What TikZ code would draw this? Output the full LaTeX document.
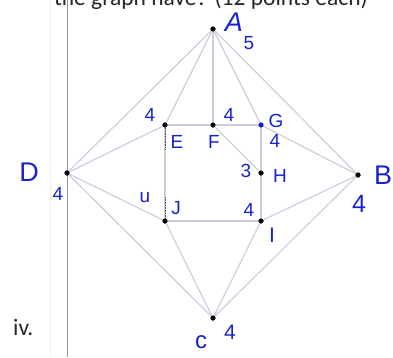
\documentclass[tikz,border=0pt]{standalone}
\usepackage{fontspec}
\setmainfont{Carlito}
\newfontfamily\handfont{Liberation Sans}
\usetikzlibrary{calc}
\definecolor{edgegray}{RGB}{205, 205, 224}
\definecolor{inkblue}{RGB}{25, 35, 205}
\definecolor{rulegray}{RGB}{150, 150, 150}

\begin{document}
\begin{tikzpicture}[x=1pt, y=-1pt,
    vtx/.style={circle, fill=black, inner sep=0pt, minimum size=5pt},
    edge/.style={draw=edgegray, line width=1.2pt},
    hand/.style={font=\handfont\fontsize{19}{19}\selectfont, text=inkblue, inner sep=0pt},
    bighand/.style={hand, font=\handfont\fontsize{27}{27}\selectfont},
    print/.style={font=\fontsize{23.5}{28}\selectfont, text=black!85, inner sep=0pt}
  ]
    \clip (0,0) rectangle (393,357);
    \useasboundingbox (0,0) rectangle (393,357);

    % page margin lines
    \draw[black!6, line width=1pt] (50,0) -- (50,357);
    \draw[rulegray, line width=0.8pt] (67,0) -- (67,357);

    % printed text
    \node[print, anchor=base east] (question) at (368,5) {the graph have? (12 points each)};
    \node[print, anchor=base west] (part) at (13,335) {iv.};

    % vertices
    \node[vtx] (A) at (213,29) {};
    \node[vtx] (D) at (67,173) {};
    \node[vtx] (B) at (358,175) {};
    \node[vtx] (C) at (213,318) {};
    \node[vtx] (E) at (165,125) {};
    \node[vtx] (F) at (213,125) {};
    \node[vtx, fill=inkblue] (G) at (261,125) {};
    \node[vtx] (H) at (261,173) {};
    \node[vtx] (I) at (261,221) {};
    \node[vtx] (J) at (165,221) {};

    % edges
    \foreach \a/\b in {A/D, A/E, A/F, A/G, A/B, D/E, D/J, D/C, B/G, B/I, B/C,
                       C/J, C/I, E/F, E/J, F/G, F/H, G/H, H/I, I/J}
      \draw[edge] (\a) -- (\b);
    \draw[black!70, densely dotted, line width=0.6pt] (E) -- ($(E)!0.25!(J)$);
    \draw[black!70, densely dotted, line width=0.6pt] (J) -- ($(J)!0.25!(E)$);

    % redraw vertices on top
    \foreach \v in {A, D, B, C, E, F, H, I, J}
      \fill (\v) circle (2.5pt);
    \fill[inkblue] (G) circle (2.5pt);

    % names and degrees
    \node[bighand, font=\handfont\itshape\fontsize{27}{27}\selectfont] (lA) at (234,22) {A};
    \node[hand] (dA) at (249,43) {5};
    \node[bighand] (lD) at (29,172) {D};
    \node[hand] (dD) at (58,194) {4};
    \node[bighand] (lB) at (383,175) {B};
    \node[hand, font=\handfont\fontsize{25}{25}\selectfont] (dB) at (359,204) {4};
    \node[hand, font=\handfont\fontsize{24}{24}\selectfont] (lC) at (201,342) {c};
    \node[hand, font=\handfont\fontsize{21}{21}\selectfont] (dC) at (230,332) {4};
    \node[hand] (dE) at (150,115) {4};
    \node[hand] (lE) at (177,142) {E};
    \node[hand] (lF) at (214,142) {F};
    \node[hand] (dF) at (229,115) {4};
    \node[hand] (lG) at (276,121) {G};
    \node[hand] (dG) at (275,141) {4};
    \node[hand] (dH) at (246,171) {3};
    \node[hand] (lH) at (280,176) {H};
    \node[hand] (dJ) at (145,198) {u};
    \node[hand] (lJ) at (176,208) {J};
    \node[hand] (dI) at (249,210) {4};
    \node[hand, font=\handfont\fontsize{21}{21}\selectfont] (lI) at (272,235) {I};
  \end{tikzpicture}
\end{document}
